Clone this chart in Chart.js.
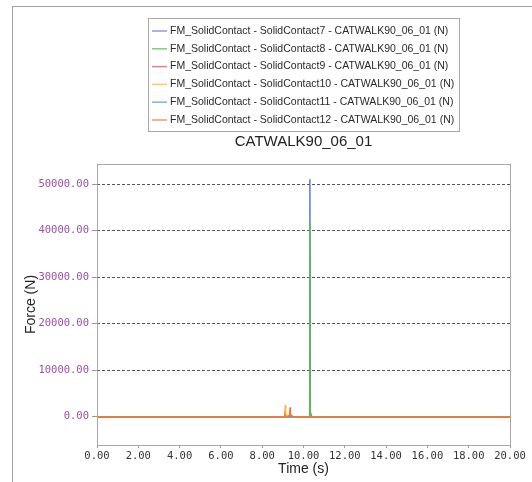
<!DOCTYPE html>
<html>
<head>
<meta charset="utf-8">
<script src="https://cdn.jsdelivr.net/npm/chart.js@4/dist/chart.umd.min.js"></script>
<style>
  html, body { margin: 0; padding: 0; background: #fff; }
  #frame { position: absolute; left: 12px; top: 6px; width: 520px; height: 476px;
           border-top: 1px solid #a0a0a0; border-left: 1px solid #a0a0a0; }
  #myChart { position: absolute; left: 0; top: 0; }
</style>
</head>
<body>
<div id="frame"><canvas id="myChart" width="519" height="475"></canvas></div>
<script>
// time samples (s)
const time = [0.00, 9.00, 9.08, 9.10, 9.12, 9.14, 9.18, 9.25, 9.30, 9.33, 9.35, 9.37, 9.42, 9.50, 10.28, 10.31, 10.33, 10.36, 10.40, 20.00]

// force per contact (N)
const contact7  = [0, 0, 0, 0, 0, 0, 0, 0, 0, 0, 0, 0, 0, 0, 0, 51000, 0, 0, 0, 0]
const contact8  = [0, 0, 0, 0, 0, 0, 0, 0, 0, 0, 0, 0, 0, 0, 0, 41900, 0, 600, 0, 0]
const contact9  = [0, 0, 0, 0, 0, 0, 0, 0, 0, 0, 0, 0, 0, 0, 0, 0, 0, 0, 0, 0]
const contact10 = [0, 0, 0, 400, 2500, 300, 350, 200, 0, 0, 0, 0, 0, 0, 0, 0, 0, 0, 0, 0]
const contact11 = [0, 0, 0, 0, 0, 0, 0, 0, 0, 0, 0, 0, 0, 0, 0, 0, 0, 0, 0, 0]
const contact12 = [0, 0, 0, 300, 0, 0, 0, 0, 250, 500, 2000, 400, 300, 0, 0, 0, 0, 0, 0, 0]

const labels = [
    'FM_SolidContact - SolidContact7 - CATWALK90_06_01 (N)',
    'FM_SolidContact - SolidContact8 - CATWALK90_06_01 (N)',
    'FM_SolidContact - SolidContact9 - CATWALK90_06_01 (N)',
    'FM_SolidContact - SolidContact10 - CATWALK90_06_01 (N)',
    'FM_SolidContact - SolidContact11 - CATWALK90_06_01 (N)',
    'FM_SolidContact - SolidContact12 - CATWALK90_06_01 (N)'
]
const colors = ['#5b7fc9', '#5cb85c', '#e8505b', '#f5b942', '#4a9fd8', '#f07838']

const xTicks = [0, 2, 4, 6, 8, 10, 12, 14, 16, 18, 20]
const yTicks = [0, 10000, 20000, 30000, 40000, 50000]

const series = [contact7, contact8, contact9, contact10, contact11, contact12]
const datasets = series.map((vals, i) => ({
    label: labels[i],
    data: vals.map((v, j) => ({ x: time[j], y: v })),
    borderColor: colors[i],
    borderWidth: 1.5,
    pointRadius: 0,
    fill: false,
    tension: 0,
    order: series.length - i
}))

// boxed legend drawn above the title
const boxLegend = {
    id: 'boxLegend',
    afterDraw(chart) {
        const c = chart.ctx
        c.save()
        c.strokeStyle = '#a8a8a8'
        c.lineWidth = 1
        c.strokeRect(135.5, 11.5, 311, 113)
        c.font = '10.5px "Liberation Sans", Arial, sans-serif'
        c.textBaseline = 'middle'
        chart.data.datasets.forEach((ds, i) => {
            const y = 24 + i * 17.8
            c.strokeStyle = ds.borderColor
            c.lineWidth = 1.5
            c.globalAlpha = 0.75
            c.beginPath()
            c.moveTo(139, y)
            c.lineTo(154, y)
            c.stroke()
            c.globalAlpha = 1
            c.fillStyle = '#2a2a2a'
            c.fillText(ds.label, 157, y)
        })
        c.restore()
    }
}

// grey frame round the plot area
const plotFrame = {
    id: 'plotFrame',
    afterDraw(chart) {
        const a = chart.chartArea
        const c = chart.ctx
        c.save()
        c.strokeStyle = '#a8a8a8'
        c.lineWidth = 1
        c.strokeRect(Math.round(a.left) + 0.5, Math.round(a.top) + 0.5,
            Math.round(a.right - a.left), Math.round(a.bottom - a.top))
        c.restore()
    }
}

const ctx = document.getElementById('myChart').getContext('2d')
const myChart = new Chart(ctx, {
    type: 'line',
    data: { datasets: datasets },
    plugins: [boxLegend, plotFrame],
    options: {
        responsive: false,
        animation: false,
        layout: { padding: { top: 120, right: 22, bottom: 0, left: 0 } },
        plugins: {
            legend: { display: false },
            tooltip: { enabled: false },
            title: {
                display: true,
                fullSize: false,
                text: 'CATWALK90_06_01',
                color: '#222',
                font: { family: '"Liberation Sans", Arial, sans-serif', size: 15, weight: 'normal' },
                padding: { top: 6, bottom: 13 }
            }
        },
        scales: {
            x: {
                type: 'linear',
                min: 0,
                max: 20,
                afterBuildTicks: (scale) => { scale.ticks = xTicks.map(v => ({ value: v })) },
                afterFit: (scale) => { scale.height = 37 },
                grid: { drawOnChartArea: false, drawTicks: true, tickLength: 3, tickColor: '#999' },
                border: { display: false },
                ticks: {
                    color: '#333',
                    padding: 2,
                    maxRotation: 0,
                    font: { family: '"DejaVu Sans Mono", monospace', size: 10.5 },
                    callback: (v) => Number(v).toFixed(2)
                },
                title: {
                    display: true,
                    text: 'Time (s)',
                    color: '#222',
                    font: { family: '"Liberation Sans", Arial, sans-serif', size: 14 },
                    padding: { top: 0, bottom: 4 }
                }
            },
            y: {
                type: 'linear',
                min: -6080,
                max: 54300,
                afterBuildTicks: (scale) => { scale.ticks = yTicks.map(v => ({ value: v })) },
                afterFit: (scale) => { scale.width = 84 },
                grid: { color: '#555', lineWidth: 1, drawTicks: true, tickLength: 5, tickColor: '#999', tickBorderDash: [] },
                border: { display: false, dash: [3, 2] },
                ticks: {
                    color: '#9b4fa5',
                    padding: 3,
                    font: { family: '"DejaVu Sans Mono", monospace', size: 10.5 },
                    callback: (v) => Number(v).toFixed(2)
                },
                title: {
                    display: true,
                    text: 'Force (N)',
                    color: '#222',
                    font: { family: '"Liberation Sans", Arial, sans-serif', size: 14 },
                    padding: { top: 10, bottom: 0 }
                }
            }
        }
    }
})
</script>
</body>
</html>
